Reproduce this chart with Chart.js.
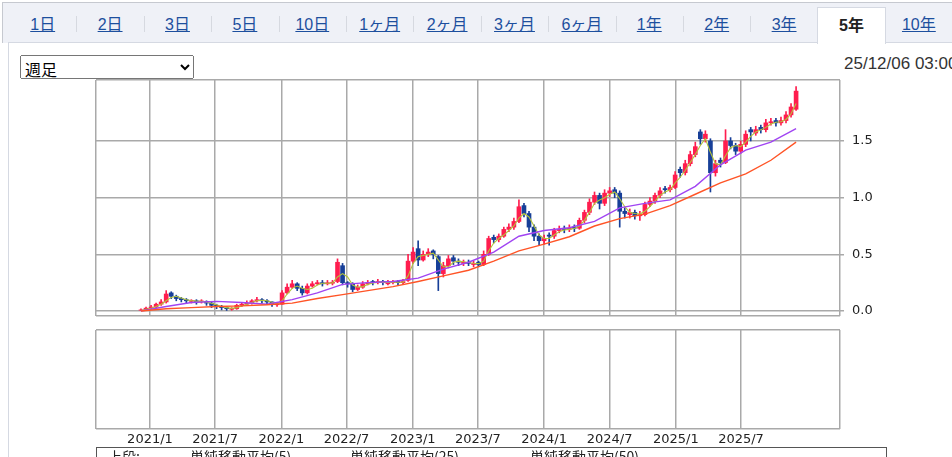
<!DOCTYPE html>
<html lang="ja">
<head>
<meta charset="utf-8">
<title>週足チャート</title>
<script src="https://cdn.jsdelivr.net/npm/chart.js@4.4.1/dist/chart.umd.min.js"></script>
<style>
  body { margin: 0; width: 952px; height: 457px; overflow: hidden; position: relative; background: #fff;
         font-family: "Liberation Sans", "Noto Sans CJK JP", sans-serif; }
  .abs { position: absolute; }
  #tabbar { left: 2px; top: 2px; width: 970px; height: 40px; background: #eff1f7; border-top: 1px solid #c6c9d0; border-left: 1px solid #c6c9d0; }
  #panel { left: 8px; top: 42px; width: 970px; height: 430px; background: #fff; border-top: 1px solid #d5d9e2; border-left: 1px solid #d5d9e2; }
  .tab { top: 7px; height: 36px; line-height: 36px; text-align: center; font-size: 16px; color: #1d4f9e; }
  .tab span { text-decoration: underline; }
  .tab.on { background: #fff; border: 1px solid #d5d9e2; border-bottom: 0; color: #222; font-weight: bold; z-index: 2; }
  .tab.on span { text-decoration: none; }
  .sep { top: 16px; width: 1px; height: 16px; background: #d6d9e0; }
  #period { left: 20px; top: 55px; width: 174px; height: 24px; font-size: 16px; font-family: "Noto Sans CJK JP", sans-serif; }
  #stamp { left: 844px; top: 54px; font-size: 17px; color: #333; white-space: nowrap; }
  #legendBox { left: 96px; top: 447px; width: 789px; height: 30px; border: 1px solid #555; font-size: 14px;
               font-family: "Noto Sans CJK JP", sans-serif; color: #222; }
  #legendBox span { position: absolute; top: 0px; line-height: 16px; }
</style>
</head>
<body>
<div id="tabbar" class="abs"></div>
<div id="panel" class="abs"></div>
<select id="period" class="abs"><option>週足</option></select>
<div id="stamp" class="abs">25/12/06 03:00</div>
<canvas id="priceChart" class="abs" width="952" height="260" style="left:0;top:70px"></canvas>
<canvas id="subChart" class="abs" width="952" height="137" style="left:0;top:320px"></canvas>
<div id="legendBox" class="abs"></div>
<script>
const tabLabels = ['1日', '2日', '3日', '5日', '10日', '1ヶ月', '2ヶ月', '3ヶ月', '6ヶ月', '1年', '2年', '3年', '5年', '10年'];
const activeTab = '5年';

// biweekly candles, first one on 2020/12/7
const firstCandle = '2020/12/7';
const candleStepDays = 14;

const opens = [
  0.00, 0.01, 0.025, 0.035, 0.06, 0.08, 0.16, 0.13, 0.11, 0.10,
  0.085, 0.09, 0.08, 0.085, 0.07, 0.05, 0.04, 0.03, 0.015, 0.02,
  0.05, 0.06, 0.07, 0.09, 0.10, 0.09, 0.08, 0.055, 0.06, 0.16,
  0.21, 0.24, 0.20, 0.16, 0.22, 0.24, 0.25, 0.24, 0.245, 0.26,
  0.40, 0.25, 0.24, 0.19, 0.21, 0.24, 0.26, 0.25, 0.26, 0.24,
  0.25, 0.26, 0.25, 0.27, 0.44, 0.55, 0.45, 0.50, 0.53, 0.48,
  0.33, 0.40, 0.47, 0.44, 0.42, 0.43, 0.41, 0.43, 0.41, 0.50,
  0.65, 0.63, 0.66, 0.72, 0.74, 0.79, 0.93, 0.86, 0.74, 0.66,
  0.62, 0.67, 0.66, 0.71, 0.73, 0.72, 0.74, 0.73, 0.80, 0.87,
  0.96, 1.02, 0.95, 1.04, 1.07, 1.04, 0.88, 0.85, 0.87, 0.84,
  0.85, 0.94, 0.97, 1.02, 1.08, 1.07, 1.09, 1.25, 1.22, 1.30,
  1.38, 1.58, 1.52, 1.50, 1.22, 1.33, 1.31, 1.50, 1.46, 1.41,
  1.47, 1.60, 1.57, 1.62, 1.60, 1.66, 1.68, 1.66, 1.68, 1.73,
  1.78
];
const highs = [
  0.02, 0.035, 0.05, 0.07, 0.10, 0.18, 0.17, 0.14, 0.12, 0.11,
  0.10, 0.10, 0.10, 0.09, 0.08, 0.06, 0.05, 0.04, 0.03, 0.06,
  0.07, 0.09, 0.10, 0.12, 0.11, 0.10, 0.08, 0.07, 0.18, 0.24,
  0.27, 0.25, 0.22, 0.24, 0.26, 0.27, 0.27, 0.27, 0.27, 0.46,
  0.42, 0.26, 0.25, 0.23, 0.26, 0.27, 0.27, 0.28, 0.27, 0.27,
  0.27, 0.27, 0.28, 0.50, 0.56, 0.62, 0.53, 0.55, 0.54, 0.49,
  0.43, 0.49, 0.49, 0.46, 0.45, 0.45, 0.44, 0.44, 0.53, 0.66,
  0.67, 0.68, 0.74, 0.77, 0.82, 0.98, 0.95, 0.88, 0.76, 0.68,
  0.67, 0.69, 0.73, 0.75, 0.75, 0.76, 0.76, 0.82, 0.89, 0.99,
  1.05, 1.04, 1.07, 1.09, 1.09, 1.06, 0.91, 0.90, 0.89, 0.88,
  0.96, 1.00, 1.04, 1.09, 1.10, 1.11, 1.23, 1.27, 1.33, 1.41,
  1.49, 1.60, 1.59, 1.52, 1.33, 1.35, 1.60, 1.53, 1.48, 1.50,
  1.59, 1.62, 1.63, 1.64, 1.69, 1.70, 1.70, 1.71, 1.76, 1.83,
  1.98
];
const lows = [
  0.00, 0.005, 0.02, 0.03, 0.05, 0.07, 0.11, 0.09, 0.08, 0.07,
  0.07, 0.06, 0.07, 0.05, 0.03, 0.02, 0.01, 0.005, 0.00, 0.015,
  0.04, 0.05, 0.06, 0.08, 0.07, 0.06, 0.04, 0.04, 0.06, 0.15,
  0.20, 0.18, 0.14, 0.15, 0.21, 0.23, 0.22, 0.23, 0.23, 0.25,
  0.23, 0.21, 0.17, 0.18, 0.20, 0.23, 0.23, 0.24, 0.23, 0.23,
  0.24, 0.23, 0.24, 0.26, 0.42, 0.40, 0.44, 0.48, 0.46, 0.18,
  0.30, 0.38, 0.41, 0.40, 0.40, 0.40, 0.39, 0.39, 0.40, 0.49,
  0.60, 0.61, 0.65, 0.70, 0.72, 0.78, 0.83, 0.70, 0.62, 0.58,
  0.59, 0.58, 0.64, 0.69, 0.69, 0.70, 0.70, 0.72, 0.78, 0.85,
  0.94, 0.90, 0.93, 1.01, 1.00, 0.74, 0.82, 0.82, 0.81, 0.80,
  0.84, 0.92, 0.95, 1.00, 1.04, 1.05, 1.08, 1.18, 1.20, 1.28,
  1.36, 1.47, 1.49, 1.05, 1.19, 1.27, 1.30, 1.43, 1.38, 1.39,
  1.45, 1.50, 1.55, 1.57, 1.58, 1.64, 1.63, 1.64, 1.66, 1.71,
  1.77
];
const closes = [
  0.01, 0.025, 0.035, 0.06, 0.08, 0.15, 0.13, 0.11, 0.10, 0.09,
  0.09, 0.08, 0.085, 0.07, 0.05, 0.04, 0.03, 0.02, 0.02, 0.05,
  0.06, 0.07, 0.09, 0.10, 0.09, 0.08, 0.06, 0.06, 0.16, 0.21,
  0.24, 0.20, 0.16, 0.22, 0.24, 0.25, 0.24, 0.25, 0.25, 0.43,
  0.25, 0.24, 0.19, 0.21, 0.24, 0.25, 0.25, 0.26, 0.25, 0.25,
  0.26, 0.25, 0.26, 0.44, 0.52, 0.45, 0.50, 0.52, 0.50, 0.33,
  0.40, 0.46, 0.44, 0.43, 0.43, 0.42, 0.42, 0.41, 0.50, 0.64,
  0.63, 0.66, 0.72, 0.74, 0.79, 0.92, 0.86, 0.74, 0.66, 0.62,
  0.64, 0.66, 0.71, 0.72, 0.72, 0.73, 0.73, 0.80, 0.87, 0.96,
  1.02, 0.95, 1.04, 1.06, 1.04, 0.88, 0.86, 0.87, 0.84, 0.85,
  0.94, 0.97, 1.02, 1.06, 1.07, 1.09, 1.20, 1.22, 1.30, 1.38,
  1.45, 1.52, 1.56, 1.22, 1.30, 1.31, 1.50, 1.46, 1.41, 1.47,
  1.56, 1.58, 1.60, 1.60, 1.66, 1.67, 1.66, 1.68, 1.73, 1.80,
  1.94
];
const ma5 = [
  0.005, 0.015, 0.025, 0.04, 0.06, 0.09, 0.12, 0.13, 0.115, 0.10,
  0.092, 0.087, 0.085, 0.08, 0.068, 0.055, 0.04, 0.03, 0.023, 0.03,
  0.045, 0.06, 0.075, 0.09, 0.095, 0.09, 0.077, 0.067, 0.09, 0.15,
  0.20, 0.22, 0.20, 0.19, 0.20, 0.23, 0.245, 0.245, 0.248, 0.30,
  0.33, 0.30, 0.23, 0.21, 0.215, 0.235, 0.248, 0.253, 0.255, 0.252,
  0.254, 0.254, 0.255, 0.31, 0.42, 0.48, 0.49, 0.50, 0.51, 0.45,
  0.39, 0.39, 0.43, 0.44, 0.435, 0.428, 0.422, 0.418, 0.44, 0.53,
  0.60, 0.64, 0.67, 0.71, 0.75, 0.82, 0.86, 0.83, 0.75, 0.67,
  0.64, 0.64, 0.67, 0.70, 0.715, 0.72, 0.728, 0.75, 0.80, 0.87,
  0.95, 0.98, 1.00, 1.03, 1.05, 0.99, 0.92, 0.87, 0.86, 0.855,
  0.88, 0.92, 0.97, 1.02, 1.05, 1.07, 1.13, 1.18, 1.24, 1.31,
  1.38, 1.46, 1.52, 1.40, 1.30, 1.29, 1.37, 1.44, 1.46, 1.45,
  1.49, 1.54, 1.58, 1.60, 1.62, 1.65, 1.665, 1.67, 1.69, 1.74,
  1.83
];
// 25/50 week averages, read every 5th candle
const maStep = 5;
const ma25 = [0.00, 0.04, 0.075, 0.085, 0.075, 0.06, 0.10, 0.16, 0.235, 0.25, 0.26, 0.29, 0.37, 0.43,
              0.52, 0.66, 0.71, 0.735, 0.79, 0.91, 0.95, 0.98, 1.10, 1.29, 1.42, 1.49, 1.61];
const ma50 = [0.00, 0.02, 0.03, 0.04, 0.045, 0.055, 0.07, 0.11, 0.145, 0.18, 0.215, 0.26, 0.31, 0.36,
              0.44, 0.53, 0.59, 0.655, 0.75, 0.815, 0.855, 0.93, 1.03, 1.13, 1.21, 1.33, 1.49];

const xTickLabels = ['2021/1', '2021/7', '2022/1', '2022/7', '2023/1', '2023/7', '2024/1', '2024/7', '2025/1', '2025/7'];
const yTickValues = [0, 0.5, 1.0, 1.5];
const legendItems = ['上段:', '単純移動平均(5)', '単純移動平均(25)', '単純移動平均(50)'];

document.addEventListener('DOMContentLoaded', () => {
    const RED = '#ff1d4e';
    const BLUE = '#173f98';
    const GRID = '#a9a9a9';
    const TEXT = '#222';
    const AXIS_FONT = { family: 'DejaVu Sans', size: 13 };

    const DAY = 86400000;
    const BASE = Date.UTC(2021, 0, 1);
    const dayOf = s => {
        const [y, m, d = 1] = s.split('/').map(Number);
        return (Date.UTC(y, m - 1, d) - BASE) / DAY;
    };
    const X_MIN = -150, X_MAX = 1917;
    const Y_MIN = -0.044, Y_MAX = 2.038;
    const tickDays = xTickLabels.map(dayOf);

    function buildPage() {
        const bar = document.body;
        const w = 67.4, x0 = 9;
        tabLabels.forEach((label, i) => {
            const el = document.createElement('div');
            el.className = 'abs tab' + (label === activeTab ? ' on' : '');
            el.style.left = (x0 + i * w - (label === activeTab ? 1 : 0)) + 'px';
            el.style.width = w + 'px';
            el.innerHTML = '<span>' + label + '</span>';
            bar.appendChild(el);
            const prevActive = tabLabels[i - 1] === activeTab;
            if (i > 0 && label !== activeTab && !prevActive) {
                const sep = document.createElement('div');
                sep.className = 'abs sep';
                sep.style.left = Math.round(x0 + i * w) + 'px';
                bar.appendChild(sep);
            }
        });

        const legendLeft = [11, 93, 253, 433];
        const box = document.getElementById('legendBox');
        legendItems.forEach((t, i) => {
            const s = document.createElement('span');
            s.textContent = t;
            s.style.left = legendLeft[i] + 'px';
            box.appendChild(s);
        });
    }

    function xScale(showLabels) {
        return {
            type: 'linear',
            min: X_MIN,
            max: X_MAX,
            offset: false,
            border: { display: false },
            grid: { color: GRID, lineWidth: 1.5, drawTicks: false, offset: false },
            afterBuildTicks: s => { s.ticks = [X_MIN, ...tickDays, X_MAX].map(v => ({ value: v })); },
            afterFit: s => { s.height = showLabels ? 20 : 0; s.paddingLeft = 0; s.paddingRight = 0; },
            ticks: {
                display: showLabels,
                autoSkip: false,
                maxRotation: 0,
                padding: 3,
                color: TEXT,
                font: AXIS_FONT,
                callback: v => { const i = tickDays.indexOf(v); return i >= 0 ? xTickLabels[i] : ''; }
            }
        };
    }

    function initPriceChart() {
        const start = dayOf(firstCandle);
        const xs = closes.map((_, i) => start + i * candleStepDays);
        const colors = closes.map((c, i) => c >= opens[i] ? RED : BLUE);
        const wicks = xs.map((x, i) => ({ x, y: [lows[i], highs[i]] }));
        const bodies = xs.map((x, i) => ({ x, y: [opens[i], closes[i]] }));
        const sampled = arr => arr.map((v, k) => ({ x: xs[Math.min(k * maStep, xs.length - 1)], y: v }));

        const lineSet = (label, data, color, width) => ({
            type: 'line', label, data, borderColor: color, borderWidth: width,
            pointRadius: 0, tension: 0, order: 0
        });

        const ctx = document.getElementById('priceChart').getContext('2d');
        new Chart(ctx, {
            type: 'bar',
            data: {
                datasets: [
                    lineSet('単純移動平均(50)', sampled(ma50), '#ff5426', 1.4),
                    lineSet('単純移動平均(25)', sampled(ma25), '#a044f2', 1.4),
                    lineSet('単純移動平均(5)', xs.map((x, i) => ({ x, y: ma5[i] })), '#b3c43a', 1.1),
                    { label: 'body', data: bodies, backgroundColor: colors, barThickness: 4, grouped: false, minBarLength: 1, order: 1 },
                    { label: 'wick', data: wicks, backgroundColor: colors, barThickness: 1, grouped: false, order: 2 }
                ]
            },
            options: {
                responsive: false,
                devicePixelRatio: 1,
                animation: false,
                events: [],
                layout: { padding: { left: 96, top: 10, right: 62, bottom: 14 } },
                plugins: { legend: { display: false }, tooltip: { enabled: false } },
                scales: {
                    x: xScale(false),
                    y: {
                        type: 'linear',
                        position: 'right',
                        min: Y_MIN,
                        max: Y_MAX,
                        border: { display: false },
                        grid: {
                            color: GRID, lineWidth: 1.5, drawTicks: true, tickLength: 4,
                            tickColor: c => (c.tick && yTickValues.includes(c.tick.value)) ? GRID : 'rgba(0,0,0,0)'
                        },
                        afterBuildTicks: s => { s.ticks = [Y_MIN, ...yTickValues, Y_MAX].map(v => ({ value: v })); },
                        afterFit: s => { s.width = 50; s.paddingTop = 0; s.paddingBottom = 0; },
                        ticks: {
                            autoSkip: false,
                            padding: 8,
                            color: TEXT,
                            font: AXIS_FONT,
                            callback: v => yTickValues.includes(v) ? v.toFixed(1) : ''
                        }
                    }
                }
            }
        });
    }

    function initSubChart() {
        const ctx = document.getElementById('subChart').getContext('2d');
        new Chart(ctx, {
            type: 'line',
            data: { datasets: [] },
            options: {
                responsive: false,
                devicePixelRatio: 1,
                animation: false,
                events: [],
                layout: { padding: { left: 96, top: 10, right: 112, bottom: 8 } },
                plugins: { legend: { display: false }, tooltip: { enabled: false } },
                scales: {
                    x: xScale(true),
                    y: {
                        type: 'linear',
                        position: 'right',
                        min: 0,
                        max: 1,
                        border: { display: false },
                        grid: { color: GRID, lineWidth: 1.5, drawTicks: false },
                        afterBuildTicks: s => { s.ticks = [{ value: 0 }, { value: 1 }]; },
                        afterFit: s => { s.width = 0; s.paddingTop = 0; s.paddingBottom = 0; },
                        ticks: { display: false }
                    }
                }
            }
        });
    }

    buildPage();
    initPriceChart();
    initSubChart();
});
</script>
</body>
</html>
